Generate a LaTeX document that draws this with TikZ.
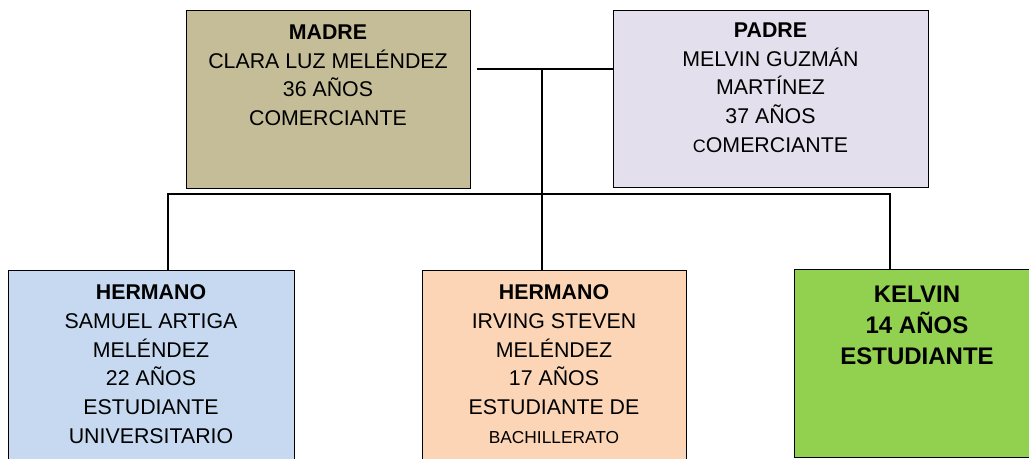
\documentclass[tikz,border=0pt]{standalone}
\usepackage{fontspec}
\setmainfont{Liberation Sans}
\definecolor{madrecol}{HTML}{C4BD97}
\definecolor{padrecol}{HTML}{E4DFEC}
\definecolor{samuelcol}{HTML}{C6D9F1}
\definecolor{irvingcol}{HTML}{FBD5B5}
\definecolor{kelvincol}{HTML}{92D050}
\tikzset{
    familybox/.style={draw=black, line width=1.1pt, anchor=north west, inner sep=0pt},
    familytext/.style={align=center, inner sep=0pt, anchor=north, font=\fontsize{16}{21.5}\selectfont},
    link/.style={draw=black, line width=0.9pt}
}
\begin{document}
\begin{tikzpicture}[x=0.75pt, y=-0.75pt]
    \useasboundingbox (0,0) rectangle (1029,459);
    \clip (0,0) rectangle (1029,459);
    % padres
    \node[familybox, fill=madrecol, minimum width=213pt, minimum height=133.5pt] (madre) at (186,10) {};
    \node[familybox, fill=padrecol, minimum width=236.25pt, minimum height=132.75pt] (padre) at (613,10) {};
    % hijos
    \node[familybox, fill=samuelcol, minimum width=214.5pt, minimum height=150pt] (samuel) at (8,270) {};
    \node[familybox, fill=irvingcol, minimum width=198pt, minimum height=150pt] (irving) at (422,270) {};
    \node[familybox, fill=kelvincol, minimum width=184.5pt, minimum height=141pt] (kelvin) at (794,269) {};
    % textos
    \node[familytext] (madre-txt) at (328,24.7) {\textbf{MADRE}\\CLARA LUZ MELÉNDEZ\\36 AÑOS\\COMERCIANTE};
    \node[familytext] (padre-txt) at (770.5,22.7) {\textbf{PADRE}\\MELVIN GUZMÁN\\MARTÍNEZ\\37 AÑOS\\{\fontsize{13.5}{21.5}\selectfont C}OMERCIANTE};
    \node[familytext] (samuel-txt) at (151,284.7) {\textbf{HERMANO}\\SAMUEL ARTIGA\\MELÉNDEZ\\22 AÑOS\\ESTUDIANTE\\UNIVERSITARIO};
    \node[familytext] (irving-txt) at (554,284.7) {\textbf{HERMANO}\\IRVING STEVEN\\MELÉNDEZ\\17 AÑOS\\ESTUDIANTE DE\\{\fontsize{13}{21.5}\selectfont BACHILLERATO}};
    \node[familytext, font=\fontsize{18}{23.25}\selectfont\bfseries] (kelvin-txt) at (917,285.8) {KELVIN\\14 AÑOS\\ESTUDIANTE};
    % conexiones
    \coordinate (union) at (542,69);
    \coordinate (ml) at (477,69);
    \coordinate (busl) at (168,194);
    \coordinate (busr) at (890,194);
    \draw[link] (ml) -- (padre.west |- union);
    \draw[link] (union) -- (union |- irving.north);
    \draw[link] (busl |- samuel.north) -- (busl) -- (busr) -- (busr |- kelvin.north);
\end{tikzpicture}
\end{document}
